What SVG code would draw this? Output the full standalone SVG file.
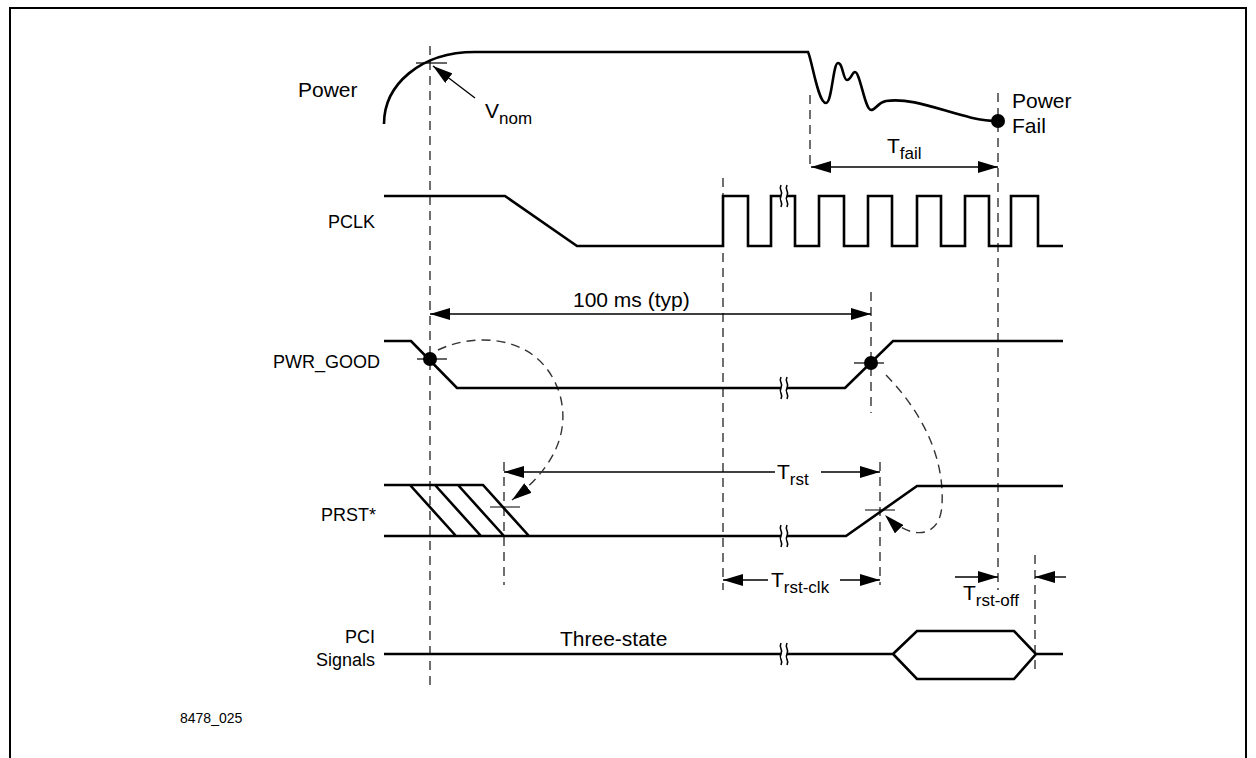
<svg xmlns="http://www.w3.org/2000/svg" xmlns:xlink="http://www.w3.org/1999/xlink" width="1256" height="758" viewBox="0 0 1256 758">
<style>
.t{font-family:"Liberation Sans",Arial,sans-serif;font-size:21px;fill:#000}
.l{font-size:18px}
.s{font-size:17px}
.w{fill:none;stroke:#000;stroke-width:2.6;stroke-linejoin:miter}
.d{fill:none;stroke:#333;stroke-width:1.4;stroke-dasharray:9 6}
.a{fill:none;stroke:#000;stroke-width:1.4}
.k{fill:none;stroke:#000;stroke-width:1.2}
</style>
<defs>
<marker id="ah" markerUnits="userSpaceOnUse" markerWidth="20" markerHeight="12" refX="20" refY="6" orient="auto-start-reverse"><path d="M0,0 L20,6 L0,12 z" fill="#000"/></marker>
<g id="brk"><rect x="-3" y="-4" width="6" height="8" fill="#fff"/><path d="M-3,-11 C-6,-5 0,-5 -3,0 C-6,5 0,5 -3,11 M3,-11 C0,-5 6,-5 3,0 C0,5 6,5 3,11" fill="none" stroke="#000" stroke-width="1.6"/></g>
</defs>
<rect x="0" y="0" width="1256" height="758" fill="#fff"/>
<rect x="10" y="8" width="1236" height="780" fill="none" stroke="#000" stroke-width="2"/>

<g id="connectors">
<path class="d" d="M430,46 V690 M810,95 V170 M998,93 V590 M723,178 V590 M871,292 V413 M880,462 V585 M504,462 V585 M1035,555 V675"/>
<path class="a" d="M475,98 L433,66" marker-end="url(#ah)"/>
<path class="a" d="M811,167 H998" marker-start="url(#ah)" marker-end="url(#ah)"/>
<path class="a" d="M430,314 H871" marker-start="url(#ah)" marker-end="url(#ah)"/>
<path class="a" d="M504,472 H775" marker-start="url(#ah)"/>
<path class="a" d="M821,472 H880" marker-end="url(#ah)"/>
<path class="a" d="M723,580 H768" marker-start="url(#ah)"/>
<path class="a" d="M840,580 H880" marker-end="url(#ah)"/>
<path class="a" d="M955,577 H998" marker-end="url(#ah)"/>
<path class="a" d="M1066,577 H1035" marker-end="url(#ah)"/>
<path class="d" d="M438,350 C470,334 540,330 560,395 C572,440 545,475 512,500" marker-end="url(#ah)"/>
<path class="d" d="M886,375 C915,405 945,450 942,505 C940,540 910,540 885,515" marker-end="url(#ah)"/>
</g>

<g id="power">
<text class="t" x="298" y="97">Power</text>
<path class="w" d="M384,124 C384,85 420,52 475,52 L808,52 C812,60 818,103 826,103 C832,103 833,63 838,63 C843,63 843,80 847,80 C851,80 852,72 855,72 C860,72 865,110 871,110 C876,110 877,103 886,101 C920,96 960,121 998,121"/>
<path class="k" d="M416,63 H447"/>
<text class="t" x="485" y="118">V<tspan class="s" dy="6">nom</tspan></text>
<circle cx="998" cy="121" r="7" fill="#000"/>
<text class="t" x="1012" y="108">Power</text>
<text class="t" x="1012" y="133">Fail</text>
<text class="t" x="887" y="153">T<tspan class="s" dy="6">fail</tspan></text>
</g>

<g id="pclk">
<text class="t l" x="375" y="228" text-anchor="end">PCLK</text>
<path class="w" d="M384,196 L505,196 L577,246 L723,246 L723,196 L748,196 L748,246 L771,246 L771,196 L795,196 L795,246 L819,246 L819,196 L844,196 L844,246 L868,246 L868,196 L892,196 L892,246 L917,246 L917,196 L941,196 L941,246 L965,246 L965,196 L989,196 L989,246 L1011,246 L1011,196 L1038,196 L1038,246 L1063,246"/>
<use xlink:href="#brk" x="784" y="196"/>
</g>

<g id="pwr_good">
<text class="t l" x="380" y="368" text-anchor="end">PWR_GOOD</text>
<path class="w" d="M384,341 L411,341 L457,388 L845,388 L893,341 L1063,341"/>
<circle cx="430" cy="359" r="7" fill="#000"/>
<path class="k" d="M417,359 H447"/>
<circle cx="871" cy="363" r="7" fill="#000"/>
<path class="k" d="M854,363 H884"/>
<use xlink:href="#brk" x="784" y="388"/>
<text class="t" x="573" y="307">100 ms (typ)</text>
</g>

<g id="prst">
<text class="t l" x="376" y="521" text-anchor="end">PRST*</text>
<path class="w" d="M384,485 L483,485 L529,536 M384,536 L846,536 L917,486 L1063,486 M410,485 L456,536 M435,485 L481,536 M458,485 L504,536"/>
<path class="k" d="M490,507 H520 M865,510 H895"/>
<use xlink:href="#brk" x="784" y="536"/>
<text class="t" x="777" y="479">T<tspan class="s" dy="6">rst</tspan></text>
<text class="t" x="771" y="587">T<tspan class="s" dy="6">rst-clk</tspan></text>
<text class="t" x="963" y="600">T<tspan class="s" dy="6">rst-off</tspan></text>
</g>

<g id="pci">
<text class="t l" x="375" y="643" text-anchor="end">PCI</text>
<text class="t l" x="375" y="666" text-anchor="end">Signals</text>
<path class="w" d="M384,654 L893,654 M893,654 L917,631 L1014,631 L1036,654 L1014,679 L917,679 Z M1036,654 L1063,654"/>
<use xlink:href="#brk" x="784" y="654"/>
<text class="t" x="560" y="646">Three-state</text>
</g>

<text class="t" x="180" y="723" style="font-size:14px">8478_025</text>
</svg>
